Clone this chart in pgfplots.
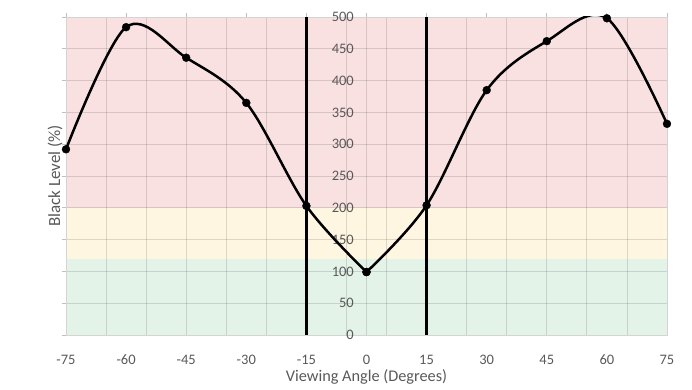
\documentclass[border=0pt]{standalone}
\usepackage{pgfplots}
\pgfplotsset{compat=1.18}
\usepackage{fontspec}
\setmainfont{Carlito}
\definecolor{txt}{HTML}{595959}
\definecolor{bandred}{HTML}{F9E1E1}
\definecolor{bandyel}{HTML}{FFF6E1}
\definecolor{bandgrn}{HTML}{E3F3E8}
\begin{document}
\begin{tikzpicture}
\begin{axis}[
  set layers,
  at={(66bp,55bp)}, anchor=south west,
  scale only axis, width=601bp, height=318bp,
  xmin=-75, xmax=75, ymin=0, ymax=500,
  clip mode=individual,
  xtick={-75,-60,-45,-30,-15,0,15,30,45,60,75},
  xticklabels={-75,-60,-45,-30,-15,0,15,30,45,60,75},
  minor xtick={-65,-55,-45,-35,-25,-15,-5,0,5,15,25,35,45,55,65},
  ytick={0,50,100,150,200,250,300,350,400,450,500},
  yticklabels={0,50,100,150,200,250,300,350,400,450,500},
  xminorgrids, ymajorgrids,
  grid style={black, opacity=0.13, line width=0.8bp},
  minor grid style={black, opacity=0.13, line width=0.8bp},
  axis line style={draw=black!17, line width=0.8bp},
  tick style={black!25, line width=0.8bp},
  tick align=outside,
  major tick length=4bp, minor tick length=0pt,
  xtick pos=upper, xticklabel pos=lower,
  ytick pos=left,
  every tick label/.append style={font=\fontsize{14.5bp}{17bp}\selectfont, text=txt},
  xticklabel style={anchor=center, inner sep=0pt, yshift=-21bp},
  yticklabel style={anchor=east, inner sep=0pt, xshift=292bp},
  xlabel={Viewing Angle (Degrees)},
  ylabel={Black Level (\%)},
  xlabel style={at={(axis description cs:0.5,-0.131)}, anchor=center, inner sep=0pt, font=\fontsize{16.3bp}{19bp}\selectfont, text=txt},
  ylabel style={at={(axis description cs:-0.0183,0.5)}, anchor=center, font=\fontsize{17bp}{19bp}\selectfont, text=txt},
]
\addplot[draw=none, fill=bandred, on layer=axis background] coordinates {(-75,200) (75,200) (75,500) (-75,500)} -- cycle;
\addplot[draw=none, fill=bandyel, on layer=axis background] coordinates {(-75,120) (75,120) (75,200) (-75,200)} -- cycle;
\addplot[draw=none, fill=bandgrn, on layer=axis background] coordinates {(-75,0) (75,0) (75,120) (-75,120)} -- cycle;
\addplot[black, line width=2.4bp] coordinates {(-15,0) (-15,500)};
\addplot[black, line width=2.4bp] coordinates {(15,0) (15,500)};
\addplot[black, line width=2.5bp, smooth, tension=0.55, mark=*, mark size=4bp, mark options={solid, fill=black, line width=0.3bp}] coordinates {
(-75,292) (-60,484) (-45,436) (-30,365) (-15,203) (0,99)};
\addplot[black, line width=2.5bp, smooth, tension=0.55, mark=*, mark size=4bp, mark options={solid, fill=black, line width=0.3bp}] coordinates {
(0,99) (15,204) (30,385) (45,462) (60,498) (75,332)};
\end{axis}
\path (0,0) rectangle (692bp,390bp);
\end{tikzpicture}
\end{document}
